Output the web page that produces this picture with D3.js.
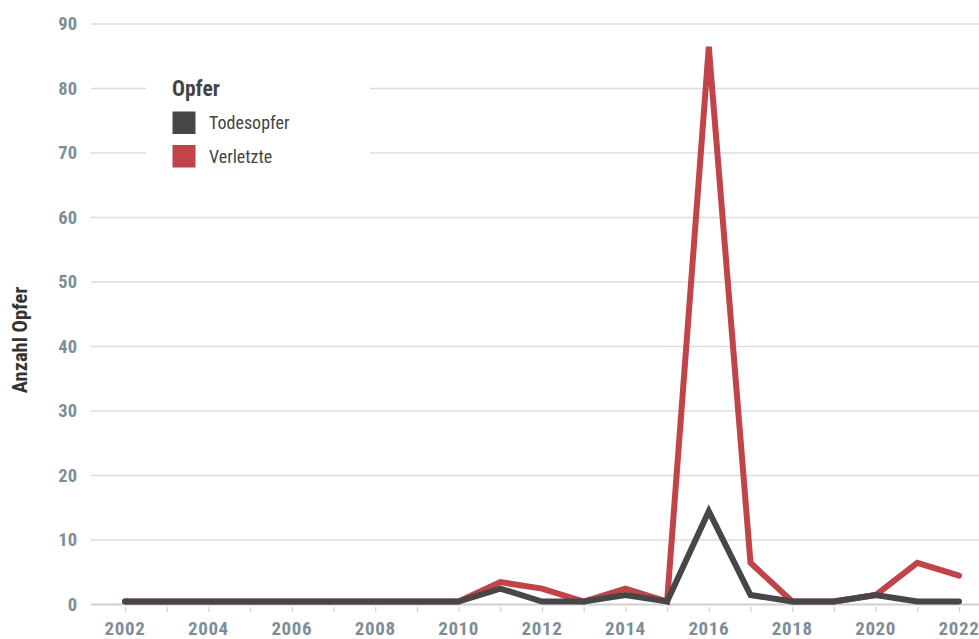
<!DOCTYPE html>
<html>
<head>
<meta charset="utf-8">
<script src="https://cdn.jsdelivr.net/npm/d3@7"></script>
<style>
  html, body { margin: 0; padding: 0; background: #fff; }
  svg { display: block; }
  text { font-family: "Liberation Sans Narrow", "Roboto Condensed", "DejaVu Sans Condensed", "Liberation Sans", sans-serif; }
</style>
</head>
<body>
<svg id="chart" width="979" height="639"></svg>
<script>
const years = d3.range(2002, 2023);
const todesopfer = [0,0,0,0,0,0,0,0,0,2,0,0,1,0,14,1,0,0,1,0,0];
const verletzte  = [0,0,0,0,0,0,0,0,0,3,2,0,2,0,86,6,0,0,1,6,4];
const yTicks = [0,10,20,30,40,50,60,70,80,90];
const xLabelYears = d3.range(2002, 2023, 2);
const seriesNames = ["Todesopfer", "Verletzte"];
const seriesColors = ["#474747", "#c1444a"];
const legendTitle = "Opfer";
const yTitle = "Anzahl Opfer";

const svg = d3.select("#chart");
const W = 979, H = 639;
const x = d3.scaleLinear().domain([2002, 2022]).range([125, 959]);
const y = d3.scaleLinear().domain([0, 90]).range([604.5, 24]);

// gridlines
svg.append("g").selectAll("line").data(yTicks).join("line")
  .attr("x1", 91).attr("x2", W)
  .attr("y1", d => y(d)).attr("y2", d => y(d))
  .attr("stroke", d => d === 0 ? "#d0d0d0" : "#dcdcdc")
  .attr("stroke-width", d => d === 0 ? 2 : 1.5);

// y tick labels
svg.append("g").selectAll("text").data(yTicks).join("text")
  .attr("x", 77).attr("y", d => y(d))
  .attr("dy", "0.35em")
  .attr("text-anchor", "end")
  .attr("font-size", 18.5).attr("font-weight", "bold")
  .attr("fill", "#7d8e98")
  .text(d => d);

// x axis ticks
const xAxis = d3.axisBottom(x)
  .tickValues(years)
  .tickSize(5)
  .tickFormat("");
const gx = svg.append("g").attr("transform", "translate(0,607)").call(xAxis);
gx.select(".domain").remove();
gx.selectAll(".tick line").attr("stroke", "#cfcfcf").attr("stroke-width", 1.2);

// x labels
svg.append("g").selectAll("text").data(xLabelYears).join("text")
  .attr("x", d => x(d)).attr("y", 628.5)
  .attr("dy", "0.35em")
  .attr("text-anchor", "middle")
  .attr("font-size", 19).attr("font-weight", "bold")
  .attr("letter-spacing", 0.6)
  .attr("fill", "#7d8e98")
  .text(d => d);

// y title
svg.append("text")
  .attr("transform", "translate(20,340) rotate(-90)")
  .attr("dy", "0.35em")
  .attr("text-anchor", "middle")
  .attr("font-size", 20.5).attr("font-weight", "bold")
  .attr("fill", "#333")
  .text(yTitle);

// lines
const line = d3.line().x((d, i) => x(years[i])).y(d => y(d));
const gLines = svg.append("g").attr("transform", "translate(0,-3)");
[verletzte, todesopfer].forEach((vals, k) => {
  const color = k === 0 ? seriesColors[1] : seriesColors[0];
  gLines.append("path").datum(vals)
    .attr("d", line)
    .attr("fill", "none")
    .attr("stroke", color)
    .attr("stroke-width", 6)
    .attr("stroke-linejoin", "miter")
    .attr("stroke-linecap", "round");
});

// legend
const lg = svg.append("g");
lg.append("rect").attr("x", 146).attr("y", 60).attr("width", 224).attr("height", 120).attr("fill", "#fff");
lg.append("text").attr("x", 172).attr("y", 88).attr("dy", "0.35em")
  .attr("font-size", 21.5).attr("font-weight", "bold").attr("fill", "#444")
  .text(legendTitle);
seriesNames.forEach((name, i) => {
  const yy = 111.5 + i * 33.5;
  lg.append("rect").attr("x", 172.5).attr("y", yy).attr("width", 23).attr("height", 22.5)
    .attr("fill", seriesColors[i]);
  lg.append("text").attr("x", 209).attr("y", yy + 11.5).attr("dy", "0.35em")
    .attr("font-size", 18).attr("fill", "#444")
    .text(name);
});
</script>
</body>
</html>
